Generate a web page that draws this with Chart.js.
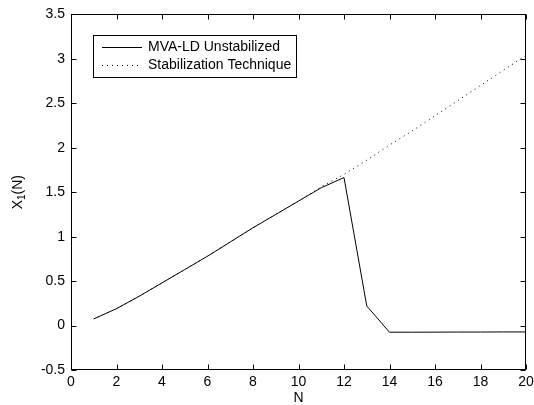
<!DOCTYPE html>
<html>
<head>
<meta charset="utf-8">
<script src="https://cdn.jsdelivr.net/npm/chart.js@4.4.1/dist/chart.umd.min.js"></script>
<style>
  html, body { margin: 0; padding: 0; background: #fff; }
  #wrap { width: 534px; height: 405px; }
</style>
</head>
<body>
<div id="wrap"><canvas id="x1Chart" width="534" height="405"></canvas></div>
<script>
// values
const nValues = [1, 2, 3, 4, 5, 6, 7, 8, 9, 10, 11, 12, 13, 14, 15, 16, 17, 18, 19, 20];
const unstabilized = [0.075, 0.19, 0.33, 0.48, 0.63, 0.78, 0.94, 1.10, 1.25, 1.40, 1.55, 1.665, 0.22, -0.075, -0.075, -0.074, -0.073, -0.073, -0.072, -0.072];
const stabilized = [0.075, 0.19, 0.33, 0.48, 0.63, 0.78, 0.94, 1.10, 1.25, 1.40, 1.56, 1.70, 1.86, 2.03, 2.19, 2.36, 2.53, 2.70, 2.87, 3.04];
const seriesLabels = ['MVA-LD Unstabilized', 'Stabilization Technique'];

const FONT = '"Liberation Sans", Arial, Helvetica, sans-serif';
Chart.defaults.color = '#000';
Chart.defaults.font.family = FONT;
Chart.defaults.font.size = 14;

const toPoints = (ys) => nValues.map((n, i) => ({ x: n, y: ys[i] }));

// matlab look: box, inward ticks on all four sides, boxed legend, axis titles
const matlabFrame = {
    id: 'matlabFrame',
    afterDraw(chart) {
        const ctx = chart.ctx;
        const a = chart.chartArea;
        const xs = chart.scales.x, ys = chart.scales.y;
        const L = Math.round(a.left) + 0.5, R = Math.round(a.right) - 0.5;
        const T = Math.round(a.top) + 0.5, B = Math.round(a.bottom) - 0.5;
        const tl = 5;
        ctx.save();
        ctx.strokeStyle = '#000';
        ctx.lineWidth = 1;
        ctx.setLineDash([]);
        ctx.strokeRect(L, T, R - L, B - T);
        ctx.beginPath();
        xs.ticks.forEach(t => {
            const px = Math.round(xs.getPixelForValue(t.value)) + 0.5;
            ctx.moveTo(px, B); ctx.lineTo(px, B - tl);
            ctx.moveTo(px, T); ctx.lineTo(px, T + tl);
        });
        ys.ticks.forEach(t => {
            const py = Math.round(ys.getPixelForValue(t.value)) + 0.5;
            ctx.moveTo(L, py); ctx.lineTo(L + tl, py);
            ctx.moveTo(R, py); ctx.lineTo(R - tl, py);
        });
        ctx.stroke();

        // legend
        const bx = 93.5, by = 35.5, bw = 203, bh = 42;
        ctx.fillStyle = '#fff';
        ctx.fillRect(bx, by, bw, bh);
        ctx.strokeRect(bx, by, bw, bh);
        ctx.font = '14px ' + FONT;
        ctx.fillStyle = '#000';
        ctx.textBaseline = 'middle';
        ctx.textAlign = 'left';
        const rows = [47.5, 65.5];
        chart.data.datasets.forEach((ds, i) => {
            ctx.beginPath();
            ctx.setLineDash(ds.borderDash || []);
            ctx.moveTo(102, rows[i]); ctx.lineTo(142, rows[i]);
            ctx.stroke();
            ctx.fillText(ds.label, 148, rows[i]);
        });
        ctx.setLineDash([]);

        // x title
        ctx.textAlign = 'center';
        ctx.fillText('N', (a.left + a.right) / 2, 398);

        // y title with subscript
        ctx.translate(18, (a.top + a.bottom) / 2);
        ctx.rotate(-Math.PI / 2);
        ctx.textAlign = 'left';
        const big = '14px ' + FONT, small = '10px ' + FONT;
        ctx.font = big; const w1 = ctx.measureText('X').width;
        ctx.font = small; const w2 = ctx.measureText('1').width;
        ctx.font = big; const w3 = ctx.measureText('(N)').width;
        let x0 = -(w1 + w2 + w3) / 2;
        ctx.font = big; ctx.fillText('X', x0, 0);
        ctx.font = small; ctx.fillText('1', x0 + w1, 4);
        ctx.font = big; ctx.fillText('(N)', x0 + w1 + w2, 0);
        ctx.restore();
    }
};

const ctx = document.getElementById('x1Chart').getContext('2d');

const x1Chart = new Chart(ctx, {
    type: 'line',
    data: {
        datasets: [{
            label: seriesLabels[0],
            data: toPoints(unstabilized),
            borderColor: '#000',
            borderWidth: 1,
            pointRadius: 0,
            tension: 0,
            order: 0
        },
        {
            label: seriesLabels[1],
            data: toPoints(stabilized),
            borderColor: '#000',
            borderWidth: 1,
            borderDash: [1, 4],
            pointRadius: 0,
            tension: 0,
            order: 1
        }]
    },
    options: {
        responsive: false,
        animation: false,
        layout: { padding: { top: 11, right: 8, left: 0, bottom: 0 } },
        scales: {
            x: {
                type: 'linear',
                min: 0,
                max: 20,
                ticks: { stepSize: 2, padding: 4, maxRotation: 0 },
                grid: { display: false, drawTicks: false },
                border: { display: false },
                afterFit: (s) => { s.height = 35; s.paddingRight = 0; s.paddingLeft = 0; }
            },
            y: {
                min: -0.5,
                max: 3.5,
                ticks: {
                    stepSize: 0.5,
                    padding: 6,
                    callback: (v) => String(+v.toFixed(1))
                },
                grid: { display: false, drawTicks: false },
                border: { display: false },
                afterFit: (s) => { s.width = 71; }
            }
        },
        plugins: {
            legend: { display: false },
            tooltip: { enabled: false }
        }
    },
    plugins: [matlabFrame]
});
</script>
</body>
</html>
